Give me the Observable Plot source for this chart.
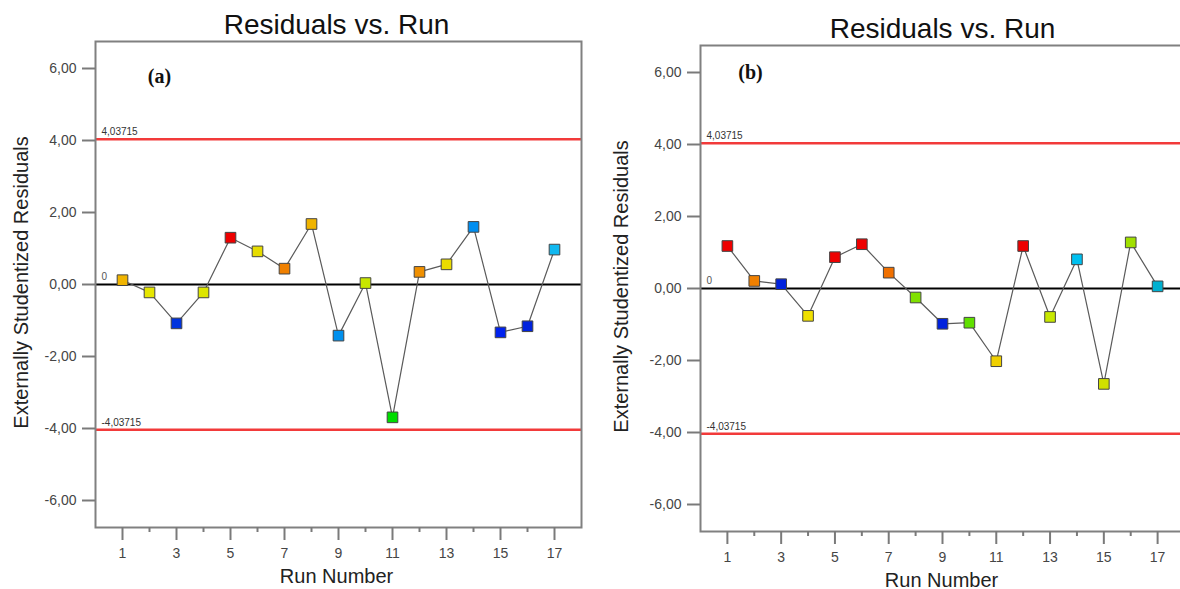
<!DOCTYPE html>
<html>
<head>
<meta charset="utf-8">
<script src="https://cdn.jsdelivr.net/npm/d3@7"></script>
<script src="https://cdn.jsdelivr.net/npm/@observablehq/plot@0.6"></script>
<style>
  html, body { margin: 0; padding: 0; background: #fff; overflow: hidden; width: 1180px; height: 589px; }
  #wrap { position: relative; width: 1180px; height: 589px; overflow: hidden; }
  #wrap svg { position: absolute; top: 0; }
</style>
</head>
<body>
<div id="wrap"></div>
<script>
const runs = [1, 2, 3, 4, 5, 6, 7, 8, 9, 10, 11, 12, 13, 14, 15, 16, 17];
const residualsA = [0.12, -0.22, -1.08, -0.22, 1.30, 0.92, 0.44, 1.68, -1.42, 0.04, -3.69, 0.35, 0.56, 1.60, -1.33, -1.16, 0.97];
const colorsA = ["#f0b400", "#e6e600", "#0033dd", "#dde600", "#ee0000", "#e6dc00", "#f08000", "#f0b400", "#0090ee", "#c8e600", "#00dd00", "#f09000", "#eadc00", "#008ef0", "#0022ee", "#0022dd", "#10b8f0"];
const residualsB = [1.18, 0.21, 0.12, -0.76, 0.87, 1.23, 0.44, -0.25, -0.98, -0.95, -2.02, 1.18, -0.79, 0.81, -2.65, 1.28, 0.06];
const colorsB = ["#ee0000", "#f08000", "#0022dd", "#f0e000", "#ee0000", "#ee0000", "#f07000", "#80e000", "#0022dd", "#60e000", "#f0d000", "#ee0000", "#c8e800", "#00c0f0", "#d0e000", "#a0e000", "#00b0d0"];
const yTicks = [-6, -4, -2, 0, 2, 4, 6];
const xMajorTicks = [1, 3, 5, 7, 9, 11, 13, 15, 17];
const xMinorTicks = [2, 4, 6, 8, 10, 12, 14, 16];
const limitValues = [4.03715, -4.03715];
const limitLabels = ["4,03715", "-4,03715"];
const zeroLabel = "0";
const titleText = "Residuals vs. Run";
const xLabelText = "Run Number";
const yLabelText = "Externally Studentized Residuals";

const font = "'Liberation Sans', Arial, sans-serif";
const fmt = d => d.toFixed(2).replace(".", ",");

function panel(residuals, colors, tag, opts) {
  const data = runs.map((r, i) => ({run: r, res: residuals[i], color: colors[i]}));
  const limits = limitValues.map((v, i) => ({v, label: limitLabels[i]}));
  const svg = Plot.plot({
    width: opts.width,
    height: 589,
    marginLeft: opts.ml,
    marginRight: opts.mr,
    marginTop: opts.mt,
    marginBottom: opts.mb,
    style: {fontFamily: font, fontSize: "14px", background: "transparent", overflow: "visible"},
    x: {domain: [0, 18], label: null},
    y: {domain: [-6.75, 6.75], label: null},
    marks: [
      Plot.ruleY([0], {stroke: "#000", strokeWidth: 2}),
      Plot.ruleY(limits, {y: "v", stroke: "#f23a3a", strokeWidth: 2.5}),
      Plot.text(limits, {x: () => 0, y: "v", text: "label", textAnchor: "start", lineAnchor: "bottom", dx: 6, dy: -4, fontSize: 10, fill: "#333"}),
      Plot.text([zeroLabel], {x: () => 0, y: () => 0, text: d => d, textAnchor: "start", lineAnchor: "bottom", dx: 6, dy: -5, fontSize: 10, fill: "#555"}),
      Plot.line(data, {x: "run", y: "res", stroke: "#5a5a5a", strokeWidth: 1.2}),
      Plot.dot(data, {x: "run", y: "res", symbol: "square", r: 6, fill: "color", stroke: "#444", strokeWidth: 1}),
      Plot.frame({stroke: "#808080", strokeWidth: 2}),
      Plot.axisY({ticks: yTicks, tickFormat: fmt, tickSize: 13, tickPadding: 6, stroke: "#7a7a7a", strokeWidth: 2, fill: "#454545", fontSize: 14, label: null}),
      Plot.axisX({ticks: xMajorTicks, tickFormat: d => String(d), tickSize: 13, tickPadding: 8, stroke: "#7a7a7a", strokeWidth: 2, fill: "#454545", fontSize: 14, label: null}),
      Plot.axisX({ticks: xMinorTicks, tickFormat: () => "", tickSize: 5, stroke: "#7a7a7a", strokeWidth: 2, label: null}),
      Plot.text([titleText], {frameAnchor: "top", text: d => d, textAnchor: "middle", lineAnchor: "bottom", dy: -8, dx: opts.titleDx, fontSize: 28, fill: "#111"}),
      Plot.text([xLabelText], {frameAnchor: "bottom", text: d => d, textAnchor: "middle", lineAnchor: "bottom", dy: opts.xlDy, dx: opts.xlDx, fontSize: 20, fill: "#222"}),
      Plot.text([yLabelText], {frameAnchor: "left", text: d => d, rotate: -90, textAnchor: "middle", lineAnchor: "bottom", dx: opts.ylDx, dy: -2, fontSize: 20, fill: "#222"}),
      Plot.text([tag], {frameAnchor: "top-left", text: d => d, textAnchor: "middle", lineAnchor: "middle", dx: opts.tagDx, dy: opts.tagDy, fontSize: 20, fontWeight: "bold", fontFamily: "'Liberation Serif', 'Times New Roman', serif", fill: "#111"})
    ]
  });
  svg.style.left = opts.left + "px";
  return svg;
}

const wrap = document.getElementById("wrap");
wrap.appendChild(panel(residualsA, colorsA, "(a)", {left: 0, width: 590, ml: 95, mr: 9, mt: 41, mb: 62, titleDx: -2, xlDy: 55, xlDx: -2, ylDx: -68, tagDx: 64, tagDy: 35}));
wrap.appendChild(panel(residualsB, colorsB, "(b)", {left: 590, width: 600, ml: 110, mr: 6, mt: 45, mb: 58, titleDx: 0, xlDy: 55, xlDx: -1, ylDx: -73, tagDx: 50, tagDy: 27}));
</script>
</body>
</html>
